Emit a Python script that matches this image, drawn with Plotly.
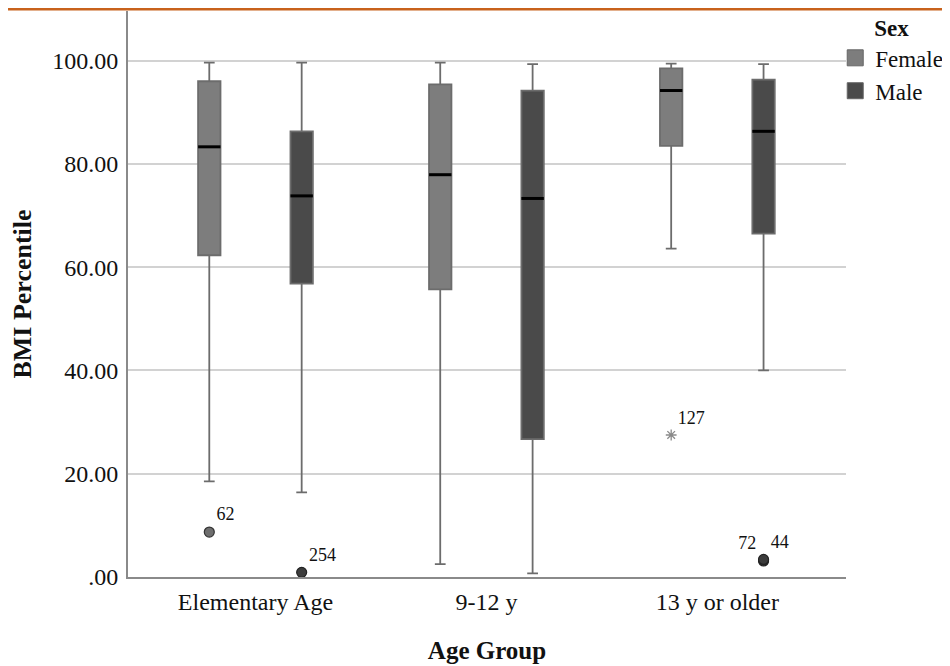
import plotly.graph_objects as go

# ---------------- data ----------------
age_groups = ["Elementary Age", "9-12 y", "13 y or older"]
sexes = ["Female", "Male"]

female_upper = [99.6, 99.6, 99.4]
female_q3 = [96.0, 95.4, 98.5]
female_median = [83.3, 77.9, 94.2]
female_q1 = [62.3, 55.7, 83.5]
female_lower = [18.5, 2.5, 63.6]

male_upper = [99.6, 99.3, 99.3]
male_q3 = [86.3, 94.2, 96.3]
male_median = [73.8, 73.3, 86.3]
male_q1 = [56.8, 26.7, 66.5]
male_lower = [16.4, 0.7, 40.0]

# outliers: group index, value, case label, marker kind
female_outlier_group = [0, 2]
female_outlier_value = [8.7, 27.5]
female_outlier_label = ["62", "127"]
female_outlier_kind = ["circle", "extreme"]

male_outlier_group = [0, 2, 2]
male_outlier_value = [0.9, 3.1, 3.4]
male_outlier_label = ["254", "72", "44"]

y_tickvals = [0, 20, 40, 60, 80, 100]
y_ticktext = [".00", "20.00", "40.00", "60.00", "80.00", "100.00"]

# ---------------- style ----------------
FONT = "Liberation Serif"
FEMALE_FILL = "#7d7d7d"
MALE_FILL = "#4a4a4a"
EDGE = "#6c6c6c"
OFFSET = 0.2
BOX_W = 0.097

fig = go.Figure()

specs = [
    ("Female", -OFFSET, FEMALE_FILL, female_q1, female_median, female_q3, female_lower, female_upper),
    ("Male", OFFSET, MALE_FILL, male_q1, male_median, male_q3, male_lower, male_upper),
]
for name, off, fill, q1, med, q3, lo, hi in specs:
    xs = [i + off for i in range(len(age_groups))]
    fig.add_trace(go.Box(
        x=xs, q1=q1, median=med, q3=q3, lowerfence=lo, upperfence=hi,
        width=BOX_W, whiskerwidth=0.48,
        fillcolor=fill, line=dict(color=EDGE, width=1.8),
        boxpoints=False, showlegend=False, hoverinfo="skip", name=name,
    ))
    # median bars
    fig.add_trace(go.Scatter(
        x=xs, y=med, mode="markers",
        marker=dict(symbol="line-ew", size=16, line=dict(color="black", width=3)),
        showlegend=False, hoverinfo="skip",
    ))

# female outliers
fo_x = [g - OFFSET for g in female_outlier_group]
circ = [k == "circle" for k in female_outlier_kind]
fig.add_trace(go.Scatter(
    x=[x for x, c in zip(fo_x, circ) if c],
    y=[v for v, c in zip(female_outlier_value, circ) if c],
    text=[t for t, c in zip(female_outlier_label, circ) if c],
    mode="markers+text", textposition="top right",
    textfont=dict(family=FONT, size=18, color="#111"),
    marker=dict(symbol="circle", size=10, color="#6e6e6e", line=dict(color="#333", width=1.2)),
    showlegend=False, hoverinfo="skip",
))
fig.add_trace(go.Scatter(
    x=[x for x, c in zip(fo_x, circ) if not c],
    y=[v for v, c in zip(female_outlier_value, circ) if not c],
    text=[t for t, c in zip(female_outlier_label, circ) if not c],
    mode="markers+text", textposition="top right",
    textfont=dict(family=FONT, size=18, color="#111"),
    marker=dict(symbol="asterisk-open", size=9, color="#8a8a8a", line=dict(color="#8a8a8a", width=1.3)),
    showlegend=False, hoverinfo="skip",
))
# male outliers
mo_x = [g + OFFSET for g in male_outlier_group]
male_textpos = ["top right", "top left", "top right"]
fig.add_trace(go.Scatter(
    x=mo_x, y=male_outlier_value, text=male_outlier_label,
    mode="markers+text", textposition=male_textpos,
    textfont=dict(family=FONT, size=18, color="#111"),
    marker=dict(symbol="circle", size=10, color="#3c3c3c", line=dict(color="#222", width=1.2)),
    showlegend=False, hoverinfo="skip",
))

# legend entries
for name, fill in zip(sexes, [FEMALE_FILL, MALE_FILL]):
    fig.add_trace(go.Scatter(
        x=[None], y=[None], mode="markers", name=name,
        marker=dict(symbol="square", size=16, color=fill, line=dict(color="#666", width=1)),
        showlegend=True,
    ))

fig.update_layout(
    width=934, height=666,
    margin=dict(l=120, r=96, t=3, b=97, autoexpand=False),
    paper_bgcolor="white", plot_bgcolor="white",
    font=dict(family=FONT, size=24, color="#111"),
    legend=dict(
        title=dict(text="<b>Sex</b>", side="top center", font=dict(family=FONT, size=23)),
        x=0.985, xanchor="left", y=1.008, yanchor="top",
        font=dict(family=FONT, size=23), bgcolor="rgba(0,0,0,0)",
        itemsizing="trace", tracegroupgap=0, itemwidth=30,
    ),
    shapes=[dict(type="rect", xref="paper", yref="paper",
                 x0=-0.1671, x1=1.1337, y0=1.0009, y1=1.0053,
                 fillcolor="#c8621c", line=dict(width=0), layer="above")],
)
fig.update_xaxes(
    range=[-0.552, 2.557], tickvals=list(range(len(age_groups))), ticktext=age_groups,
    showgrid=False, zeroline=False, showline=True, linecolor="#8a8a8a", linewidth=2,
    ticks="", ticklabelstandoff=2, tickfont=dict(family=FONT, size=24, color="#111"),
    title=dict(text="<b>Age Group</b>", font=dict(family=FONT, size=25), standoff=28),
    automargin=False,
)
fig.update_yaxes(
    range=[0, 109.6], tickvals=y_tickvals, ticktext=y_ticktext,
    showgrid=True, gridcolor="#d2d2d2", gridwidth=1.5,
    zeroline=False, showline=True, linecolor="#8a8a8a", linewidth=2,
    ticks="", ticklabelstandoff=3, tickfont=dict(family=FONT, size=24, color="#111"),
    title=dict(text="<b>BMI Percentile</b>", font=dict(family=FONT, size=26), standoff=16),
    automargin=False,
)

fig.write_html("out.html")
